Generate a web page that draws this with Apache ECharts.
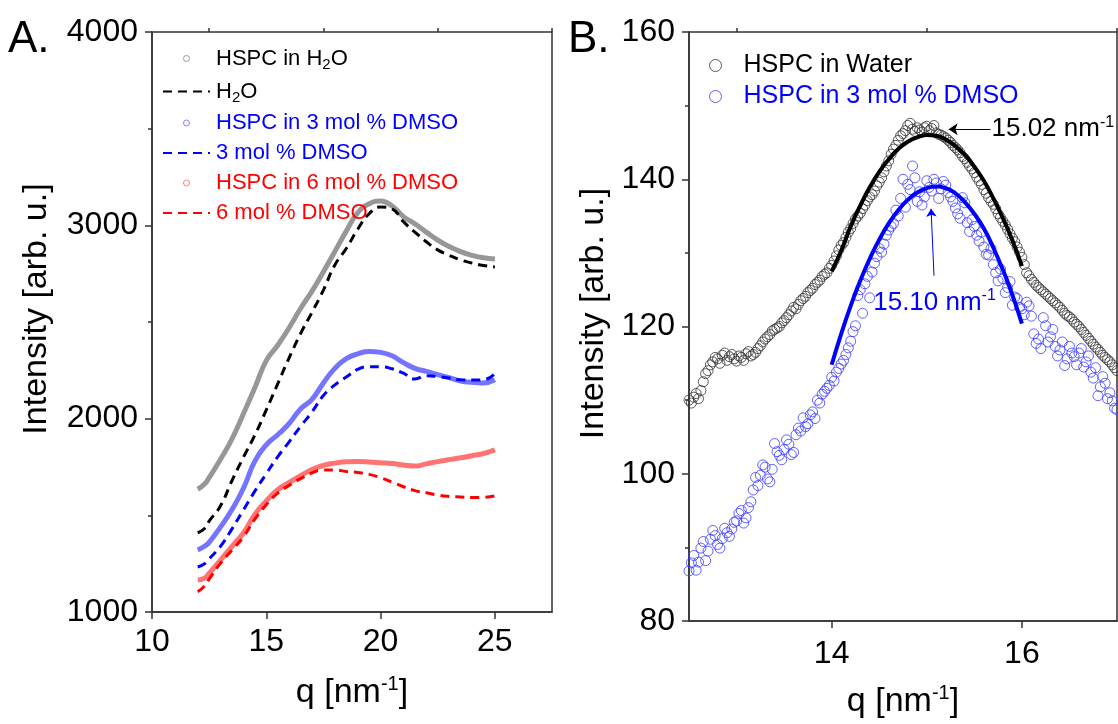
<!DOCTYPE html>
<html>
<head>
<meta charset="utf-8">
<title>HSPC scattering</title>
<script src="https://cdn.jsdelivr.net/npm/echarts@6/dist/echarts.min.js"></script>
<style>
html,body{margin:0;padding:0;background:#fff;}
#main{width:1118px;height:724px;}
</style>
</head>
<body>
<div id="main"></div>
<script>
var chart = echarts.init(document.getElementById('main'));

// panel A : q grid and intensities
var qA = [12, 12.3, 12.5, 13, 13.5, 14, 14.5, 15, 15.5, 16, 16.5, 17, 17.5, 18, 18.5, 19, 19.5, 20, 20.5, 21, 21.5, 22, 22.5, 23, 23.5, 24, 24.5, 25];
var hspcWater = [1635, 1662, 1695, 1790, 1895, 2025, 2160, 2300, 2380, 2470, 2570, 2660, 2760, 2865, 2970, 3065, 3112, 3126, 3100, 3045, 3008, 2965, 2924, 2890, 2864, 2845, 2832, 2826];
var water = [1410, 1432, 1470, 1550, 1680, 1800, 1915, 2045, 2180, 2315, 2440, 2550, 2665, 2795, 2880, 2980, 3060, 3095, 3085, 3019, 2965, 2915, 2873, 2845, 2821, 2805, 2792, 2785];
var hspcDmso3 = [1321, 1340, 1360, 1440, 1530, 1640, 1780, 1865, 1917, 1975, 2050, 2100, 2185, 2260, 2310, 2335, 2347, 2343, 2325, 2290, 2260, 2245, 2228, 2212, 2195, 2188, 2185, 2201];
var dmso3 = [1233, 1250, 1275, 1340, 1430, 1528, 1625, 1715, 1803, 1880, 1960, 2035, 2120, 2175, 2215, 2255, 2268, 2268, 2258, 2235, 2205, 2222, 2218, 2210, 2201, 2200, 2201, 2233];
var hspcDmso6 = [1166, 1175, 1200, 1269, 1340, 1409, 1505, 1575, 1632, 1670, 1705, 1737, 1758, 1770, 1777, 1778, 1776, 1772, 1768, 1760, 1755, 1766, 1778, 1788, 1798, 1808, 1820, 1839];
var dmso6 = [1105, 1135, 1170, 1253, 1320, 1389, 1480, 1555, 1615, 1655, 1690, 1720, 1735, 1735, 1727, 1722, 1712, 1695, 1672, 1648, 1628, 1617, 1605, 1598, 1595, 1592, 1593, 1601];

// panel B : peak region, points on two interleaved q grids
var qB = [12.5, 12.55, 12.6, 12.65, 12.7, 12.75, 12.8, 12.85, 12.9, 12.95,
    13, 13.05, 13.1, 13.15, 13.2, 13.25, 13.3, 13.35, 13.4, 13.45, 13.5, 13.55, 13.6, 13.65, 13.7, 13.75, 13.8, 13.85, 13.9, 13.95,
    14, 14.05, 14.1, 14.15, 14.2, 14.25, 14.3, 14.35, 14.4, 14.45, 14.5, 14.55, 14.6, 14.65, 14.7, 14.75, 14.8, 14.85, 14.9, 14.95,
    15, 15.05, 15.1, 15.15, 15.2, 15.25, 15.3, 15.35, 15.4, 15.45, 15.5, 15.55, 15.6, 15.65, 15.7, 15.75, 15.8, 15.85, 15.9, 15.95,
    16, 16.05, 16.1, 16.15, 16.2, 16.25, 16.3, 16.35, 16.4, 16.45, 16.5, 16.55, 16.6, 16.65, 16.7, 16.75, 16.8, 16.85, 16.9, 16.95,
    17];
var qB2 = [12.525, 12.575, 12.625, 12.675, 12.725, 12.775, 12.825, 12.875, 12.925, 12.975,
    13.025, 13.075, 13.125, 13.175, 13.225, 13.275, 13.325, 13.375, 13.425, 13.475, 13.525, 13.575, 13.625, 13.675, 13.725, 13.775, 13.825, 13.875, 13.925, 13.975,
    14.025, 14.075, 14.125, 14.175, 14.225, 14.275, 14.325, 14.375, 14.425, 14.475, 14.525, 14.575, 14.625, 14.675, 14.725, 14.775, 14.825, 14.875, 14.925, 14.975,
    15.025, 15.075, 15.125, 15.175, 15.225, 15.275, 15.325, 15.375, 15.425, 15.475, 15.525, 15.575, 15.625, 15.675, 15.725, 15.775, 15.825, 15.875, 15.925, 15.975,
    16.025, 16.075, 16.125, 16.175, 16.225, 16.275, 16.325, 16.375, 16.425, 16.475, 16.525, 16.575, 16.625, 16.675, 16.725, 16.775, 16.825, 16.875, 16.925, 16.975];
var peakWater = [110.0, 110.4, 110.2, 112.5, 114.0, 115.2, 115.6, 116.1, 115.4, 116.2,
    115.3, 115.8, 116.3, 116.0, 116.5, 117.4, 118.3, 118.9, 119.6, 120.0, 120.8, 121.6, 122.6, 123.0, 123.8, 124.6, 125.2, 126.0, 126.8, 127.3,
    128.3, 129.6, 131.0, 132.1, 133.3, 134.6, 135.4, 136.5, 137.6, 138.4, 139.6, 141.0, 142.5, 144.1, 145.3, 146.2, 147.3, 146.8, 147.0, 146.4,
    147.2, 146.9, 146.3, 146.0, 145.6, 145.0, 144.3, 143.6, 142.8, 141.8, 140.9, 139.8, 138.6, 137.5, 136.6, 135.3, 134.3, 133.2, 132.0, 130.8,
    129.4, 127.3, 126.4, 125.6, 125.0, 124.4, 123.8, 123.2, 122.6, 121.8, 121.3, 120.6, 120.0, 119.2, 118.4, 117.6, 116.9, 116.1, 115.5, 114.8,
    114.0];
var peakWater2 = [109.6, 110.9, 111.3, 113.6, 114.8, 115.8, 115.0, 116.4, 115.9, 115.6,
    116.0, 115.4, 116.6, 116.2, 117.0, 117.9, 118.6, 119.4, 119.8, 120.5, 121.2, 122.1, 122.4, 123.5, 124.1, 124.9, 125.7, 126.3, 127.1, 127.9,
    128.9, 130.4, 131.4, 132.8, 134.0, 135.0, 136.0, 137.1, 137.9, 139.1, 140.2, 141.8, 143.4, 144.6, 145.9, 146.6, 147.6, 146.5, 146.7, 147.0,
    146.6, 147.3, 146.1, 145.8, 145.3, 144.6, 144.0, 143.1, 142.3, 141.4, 140.3, 139.3, 138.1, 137.0, 136.0, 134.8, 133.8, 132.6, 131.5, 130.1,
    128.4, 126.9, 126.0, 125.3, 124.7, 124.1, 123.5, 122.9, 122.2, 121.5, 121.0, 120.3, 119.6, 118.8, 118.0, 117.2, 116.5, 115.8, 115.2, 114.4];
var peakDmso3 = [86.8, 88.9, 88.0, 90.8, 89.5, 92.3, 90.4, 91.2, 92.0, 92.5,
    93.6, 95.0, 94.0, 96.2, 99.5, 99.8, 100.9, 98.9, 104.1, 102.5, 103.3, 104.0, 102.9, 106.2, 107.6, 106.8, 108.4, 110.0, 110.8, 111.6,
    113.1, 113.8, 114.9, 116.2, 118.0, 120.1, 125.0, 125.8, 123.9, 128.6, 130.6, 131.2, 133.1, 134.0, 135.0, 140.0, 139.3, 141.8, 137.0, 136.5,
    139.8, 138.4, 139.5, 138.7, 139.2, 137.6, 136.1, 134.7, 136.8, 132.9, 133.6, 131.6, 130.8, 129.7, 128.4, 126.2, 126.5, 125.3, 122.9, 123.8,
    122.4, 123.3, 121.4, 117.7, 117.0, 120.1, 118.6, 117.3, 116.8, 114.7, 117.3, 115.9, 116.4, 114.5, 116.0, 113.0, 110.6, 113.2, 110.2, 109.9,
    108.7];
var peakDmso3b = [87.9, 86.9, 89.9, 88.2, 91.1, 91.6, 89.9, 92.6, 91.5, 93.4,
    94.6, 93.3, 95.4, 97.8, 98.4, 101.2, 99.3, 100.6, 103.0, 101.9, 104.6, 102.6, 105.3, 105.8, 106.4, 108.0, 107.5, 109.6, 111.2, 112.0,
    112.6, 114.3, 115.4, 117.1, 119.3, 124.2, 121.8, 126.8, 127.4, 129.5, 130.1, 132.4, 133.6, 135.8, 137.4, 136.2, 138.6, 140.2, 138.3, 137.6,
    138.9, 140.0, 137.4, 139.7, 138.2, 137.0, 135.3, 137.5, 134.1, 134.5, 132.4, 132.8, 129.8, 130.6, 127.3, 127.8, 124.6, 126.1, 124.0, 122.6,
    121.6, 122.8, 119.0, 118.3, 121.2, 117.9, 119.6, 116.0, 117.9, 115.6, 116.4, 114.8, 117.0, 115.2, 113.8, 114.4, 111.8, 112.3, 111.0, 108.9];
var qFit = [14, 14.1, 14.2, 14.3, 14.4, 14.5, 14.6, 14.7, 14.8, 14.9, 15, 15.1, 15.2, 15.3, 15.4, 15.5, 15.6, 15.7, 15.8, 15.9, 16];
var fitWater = [127.5, 130.3, 133.6, 136.4, 138.9, 141.0, 142.7, 144.1, 145.1, 145.7, 146.0, 145.9, 145.4, 144.5, 143.3, 141.7, 139.8, 137.4, 134.7, 131.7, 128.2];
var fitDmso3 = [114.8, 119.0, 122.8, 126.2, 129.2, 131.8, 134.0, 135.8, 137.2, 138.2, 138.8, 139.0, 138.8, 138.1, 136.9, 135.3, 133.3, 130.7, 127.7, 124.3, 120.4];

// peak positions marked with arrows (tail, head)
var arrowWater = [[15.67, 146.8], [15.23, 146.8]];
var arrowDmso3 = [[15.076, 126.9], [15.045, 136.0]];

var FONT = 'Liberation Sans';
var labelsA = {
    hspcWater: 'HSPC in H{sub|2}O',
    water: 'H{sub|2}O',
    hspcDmso3: 'HSPC in 3 mol % DMSO',
    dmso3: '3 mol % DMSO',
    hspcDmso6: 'HSPC in 6 mol % DMSO',
    dmso6: '6 mol % DMSO'
};
var labelsB = {
    peakWater: 'HSPC in Water',
    peakDmso3: 'HSPC in 3 mol % DMSO'
};
var supRich = {sup: {fontSize: 20, fontFamily: FONT, padding: [0, 0, 18, 0]}};
var noteRich = {sup: {fontSize: 16, fontFamily: FONT, padding: [0, 0, 14, 0]}};
var noIcon = {color: 'rgba(0,0,0,0)', borderColor: 'rgba(0,0,0,0)', opacity: 0};

function pairs(xs, ys) {
    var out = [];
    for (var i = 0; i < xs.length; i++) {
        out.push([xs[i], ys[i]]);
    }
    return out;
}
function plain(v) {
    return String(v);
}

function bandSeries(name, ys, color) {
    return {
        name: name, type: 'line', xAxisIndex: 0, yAxisIndex: 0,
        data: pairs(qA, ys), smooth: true, symbol: 'none',
        lineStyle: {color: color, width: 5, opacity: 0.85},
        itemStyle: {color: color}
    };
}
function dashSeries(name, ys, color) {
    return {
        name: name, type: 'line', xAxisIndex: 0, yAxisIndex: 0,
        data: pairs(qA, ys), smooth: true, symbol: 'none',
        lineStyle: {color: color, width: 3, type: [9, 6]},
        itemStyle: {color: color}
    };
}

var axisLineStyle = {lineStyle: {color: '#333', width: 1.5}};
var tickLabel = {fontSize: 32, fontFamily: FONT, color: '#000'};

var option = {
    animation: false,
    backgroundColor: '#fff',
    grid: [
        {left: 152, top: 32, width: 400, height: 580, show: true, borderColor: '#333', borderWidth: 1.5},
        {left: 689, top: 32, width: 428, height: 589, show: true, borderColor: '#333', borderWidth: 1.5}
    ],
    xAxis: [
        {
            gridIndex: 0, type: 'value', min: 10, max: 27.5,
            name: 'q [nm{sup|-1}]', nameLocation: 'middle', nameGap: 62,
            nameTextStyle: {fontSize: 34, fontFamily: FONT, color: '#000', rich: supRich},
            axisLine: axisLineStyle,
            axisTick: {customValues: [10, 15, 20, 25], length: 7, lineStyle: {color: '#333', width: 1.5}},
            axisLabel: Object.assign({customValues: [10, 15, 20, 25], margin: 14, formatter: plain}, tickLabel),
            splitLine: {show: false}
        },
        {
            gridIndex: 0, type: 'value', min: 10, max: 27.5,
            axisLine: {show: false},
            axisTick: {customValues: [12.5, 17.5, 22.5, 27.5], length: 4, lineStyle: {color: '#333', width: 1.5}},
            axisLabel: {show: false},
            splitLine: {show: false}
        },
        {
            gridIndex: 1, type: 'value', min: 12.5, max: 17,
            name: 'q [nm{sup|-1}]', nameLocation: 'middle', nameGap: 62,
            nameTextStyle: {fontSize: 34, fontFamily: FONT, color: '#000', rich: supRich},
            axisLine: axisLineStyle,
            axisTick: {customValues: [14, 16], length: 7, lineStyle: {color: '#333', width: 1.5}},
            axisLabel: Object.assign({customValues: [14, 16], margin: 17, formatter: plain}, tickLabel),
            splitLine: {show: false}
        },
        {
            gridIndex: 1, type: 'value', min: 12.5, max: 17,
            axisLine: {show: false},
            axisTick: {customValues: [13, 15, 17], length: 4, lineStyle: {color: '#333', width: 1.5}},
            axisLabel: {show: false},
            splitLine: {show: false}
        }
    ],
    yAxis: [
        {
            gridIndex: 0, type: 'value', min: 1000, max: 4000, interval: 1000,
            name: 'Intensity [arb. u.]', nameLocation: 'middle', nameGap: 98, nameRotate: 90,
            nameTextStyle: {fontSize: 34, fontFamily: FONT, color: '#000', padding: [0, 0, 0, 26]},
            axisLine: axisLineStyle,
            axisTick: {length: 7, lineStyle: {color: '#333', width: 1.5}},
            minorTick: {show: true, splitNumber: 2, length: 4, lineStyle: {color: '#333', width: 1.5}},
            axisLabel: Object.assign({margin: 14, formatter: plain}, tickLabel),
            splitLine: {show: false}
        },
        {
            gridIndex: 1, type: 'value', min: 80, max: 160, interval: 20,
            name: 'Intensity [arb. u.]', nameLocation: 'middle', nameGap: 78, nameRotate: 90,
            nameTextStyle: {fontSize: 34, fontFamily: FONT, color: '#000', padding: [0, 0, 0, 26]},
            axisLine: axisLineStyle,
            axisTick: {length: 7, lineStyle: {color: '#333', width: 1.5}},
            minorTick: {show: true, splitNumber: 2, length: 4, lineStyle: {color: '#333', width: 1.5}},
            axisLabel: Object.assign({margin: 14, formatter: plain}, tickLabel),
            splitLine: {show: false}
        }
    ],
    legend: [
        {
            orient: 'vertical', left: 157, top: 40, itemWidth: 47, itemHeight: 6, itemGap: 6,
            formatter: function (name) { return labelsA[name]; },
            textStyle: {fontSize: 22, fontFamily: FONT, lineHeight: 24, padding: [0, 0, 0, 1],
                rich: {sub: {fontSize: 15, fontFamily: FONT, lineHeight: 15, padding: [12, 0, 0, 0]}}},
            data: [
                {name: 'hspcWater', icon: 'circle', itemStyle: {color: '#fff', borderColor: '#999', borderWidth: 1}, textStyle: {color: '#000'}},
                {name: 'water', itemStyle: noIcon, textStyle: {color: '#000'}},
                {name: 'hspcDmso3', icon: 'circle', itemStyle: {color: '#fff', borderColor: '#8080ff', borderWidth: 1}, textStyle: {color: '#0000ff'}},
                {name: 'dmso3', itemStyle: noIcon, textStyle: {color: '#0000ff'}},
                {name: 'hspcDmso6', icon: 'circle', itemStyle: {color: '#fff', borderColor: '#ff8080', borderWidth: 1}, textStyle: {color: '#ff0000'}},
                {name: 'dmso6', itemStyle: noIcon, textStyle: {color: '#ff0000'}}
            ]
        },
        {
            orient: 'vertical', left: 704, top: 48, itemWidth: 26, itemHeight: 12, itemGap: 6,
            formatter: function (name) { return labelsB[name]; },
            textStyle: {fontSize: 25, fontFamily: FONT, padding: [0, 0, 0, 10]},
            data: [
                {name: 'peakWater', icon: 'circle', itemStyle: {color: 'rgba(0,0,0,0)', borderColor: '#333', borderWidth: 1}, textStyle: {color: '#000'}},
                {name: 'peakDmso3', icon: 'circle', itemStyle: {color: 'rgba(0,0,0,0)', borderColor: '#3b3bff', borderWidth: 1}, textStyle: {color: '#0000ff'}}
            ]
        }
    ],
    graphic: [
        {type: 'text', left: 8, top: 18, style: {text: 'A.', font: '44px ' + FONT, fill: '#000'}},
        {type: 'text', left: 568, top: 18, style: {text: 'B.', font: '44px ' + FONT, fill: '#000'}}
    ],
    series: [
        bandSeries('hspcWater', hspcWater, '#858585'),
        dashSeries('water', water, '#000'),
        bandSeries('hspcDmso3', hspcDmso3, '#5c5cff'),
        dashSeries('dmso3', dmso3, '#0000ff'),
        bandSeries('hspcDmso6', hspcDmso6, '#ff5a5a'),
        dashSeries('dmso6', dmso6, '#ff0000'),
        {
            name: 'peakWater', type: 'scatter', xAxisIndex: 2, yAxisIndex: 1,
            data: pairs(qB, peakWater).concat(pairs(qB2, peakWater2)), symbol: 'circle', symbolSize: 10,
            itemStyle: {color: 'rgba(0,0,0,0)', borderColor: '#333', borderWidth: 1}
        },
        {
            name: 'peakDmso3', type: 'scatter', xAxisIndex: 2, yAxisIndex: 1,
            data: pairs(qB, peakDmso3).concat(pairs(qB2, peakDmso3b)), symbol: 'circle', symbolSize: 10,
            itemStyle: {color: 'rgba(0,0,0,0)', borderColor: '#3b3bff', borderWidth: 1}
        },
        {
            name: 'fitWater', type: 'line', xAxisIndex: 2, yAxisIndex: 1,
            data: pairs(qFit, fitWater), smooth: true, symbol: 'none', z: 5,
            lineStyle: {color: '#000', width: 4},
            markLine: {
                silent: true, symbol: ['none', 'arrow'], symbolSize: 9,
                lineStyle: {color: '#000', width: 1, type: 'solid'},
                label: {show: true, position: 'start', distance: 1, formatter: '15.02 nm{sup|-1}',
                    fontSize: 26, fontFamily: FONT, color: '#000', rich: noteRich},
                data: [[{coord: arrowWater[0]}, {coord: arrowWater[1]}]]
            }
        },
        {
            name: 'fitDmso3', type: 'line', xAxisIndex: 2, yAxisIndex: 1,
            data: pairs(qFit, fitDmso3), smooth: true, symbol: 'none', z: 5,
            lineStyle: {color: '#0000ff', width: 4},
            markLine: {
                silent: true, symbol: ['none', 'arrow'], symbolSize: 8,
                lineStyle: {color: '#0000ff', width: 1, type: 'solid'},
                label: {show: true, position: 'start', distance: 12, formatter: '15.10 nm{sup|-1}',
                    fontSize: 26, fontFamily: FONT, color: '#0000ff', rich: noteRich},
                data: [[{coord: arrowDmso3[0]}, {coord: arrowDmso3[1]}]]
            }
        }
    ]
};
chart.setOption(option);
</script>
</body>
</html>
